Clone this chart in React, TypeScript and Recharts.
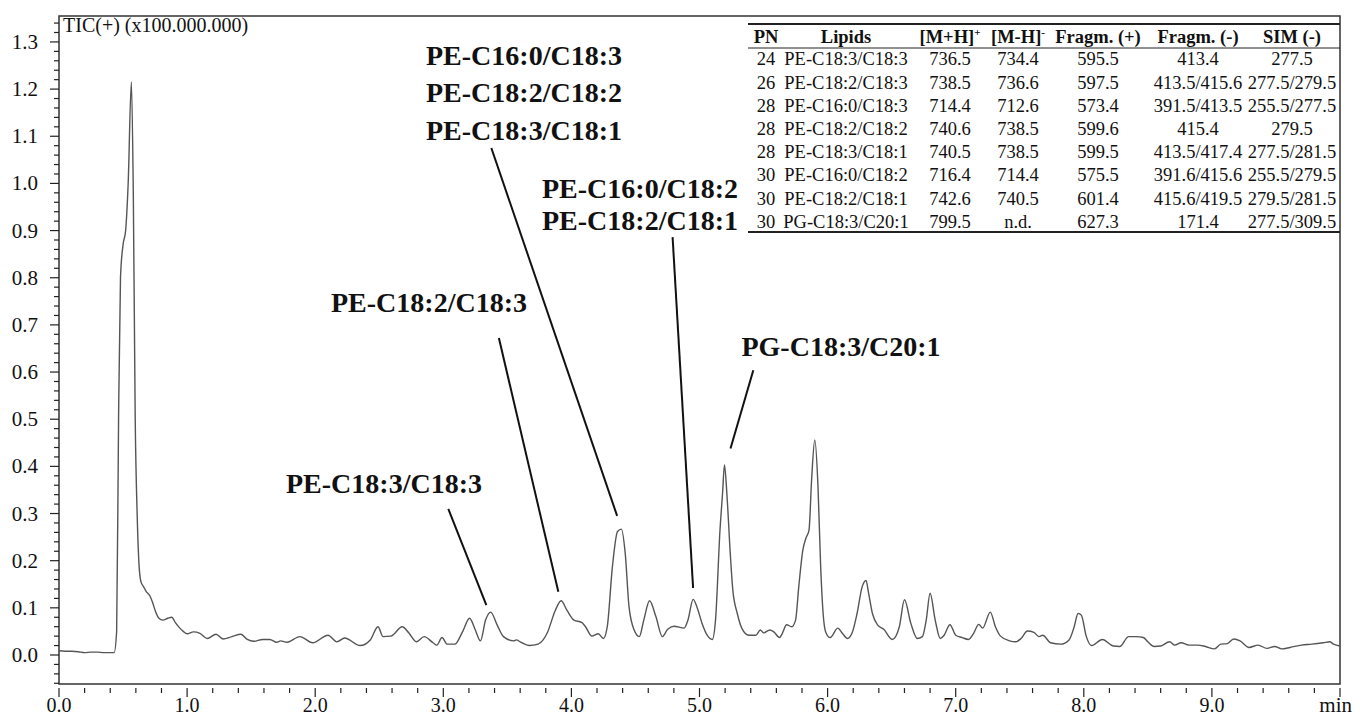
import React from 'react';
import { LineChart, Line, XAxis, YAxis, ReferenceLine, ReferenceArea } from 'recharts';

// Retention time (min)
const retentionTimes = [
  0.0, 0.05, 0.1, 0.15, 0.2, 0.25, 0.3, 0.35, 0.4, 0.43,
  0.45, 0.465, 0.48, 0.5, 0.52, 0.54, 0.565, 0.58, 0.595, 0.61,
  0.625, 0.64, 0.66, 0.68, 0.71, 0.73, 0.75, 0.78, 0.81, 0.85,
  0.88, 0.91, 0.94, 0.97, 1.0, 1.05, 1.1, 1.157, 1.226, 1.28,
  1.35, 1.42, 1.47, 1.52, 1.59, 1.645, 1.7, 1.73, 1.78, 1.88,
  1.98, 2.1, 2.17, 2.23, 2.35, 2.43, 2.49, 2.53, 2.59, 2.68,
  2.73, 2.79, 2.85, 2.92, 2.95, 2.99, 3.03, 3.09, 3.15, 3.205,
  3.25, 3.29, 3.33, 3.37, 3.42, 3.47, 3.55, 3.57, 3.6, 3.67,
  3.74, 3.81, 3.875, 3.92, 3.965, 4.02, 4.08, 4.11, 4.16, 4.21,
  4.25, 4.28, 4.32, 4.36, 4.39, 4.42, 4.45, 4.49, 4.53, 4.565,
  4.61, 4.66, 4.71, 4.75, 4.8, 4.88, 4.91, 4.95, 4.98, 5.02,
  5.06, 5.1, 5.125, 5.16, 5.18, 5.195, 5.215, 5.24, 5.26, 5.295,
  5.33, 5.385, 5.44, 5.475, 5.5, 5.55, 5.58, 5.625, 5.645, 5.68,
  5.72, 5.75, 5.775, 5.807, 5.83, 5.855, 5.875, 5.9, 5.925, 5.945,
  5.965, 5.985, 6.02, 6.08, 6.115, 6.155, 6.19, 6.23, 6.27, 6.3,
  6.32, 6.35, 6.39, 6.44, 6.505, 6.56, 6.6, 6.65, 6.7, 6.74,
  6.77, 6.8, 6.84, 6.88, 6.91, 6.955, 7.0, 7.05, 7.1, 7.14,
  7.18, 7.21, 7.27, 7.31, 7.35, 7.42, 7.47, 7.51, 7.56, 7.61,
  7.65, 7.68, 7.74, 7.82, 7.885, 7.925, 7.955, 7.98, 8.02, 8.06,
  8.145, 8.23, 8.28, 8.35, 8.41, 8.465, 8.5, 8.55, 8.6, 8.67,
  8.71, 8.76, 8.82, 8.89, 8.95, 9.02, 9.07, 9.12, 9.17, 9.22,
  9.29, 9.36, 9.43, 9.49, 9.545, 9.61, 9.7, 9.78, 9.87, 9.92,
  9.95, 10.0,
];

// TIC(+) intensity (x100.000.000)
const ticIntensity = [
  0.009, 0.008, 0.008, 0.007, 0.005, 0.006, 0.006, 0.005, 0.005, 0.005,
  0.05, 0.5, 0.8, 0.87, 0.9, 1.0, 1.215, 0.98, 0.5, 0.3,
  0.19, 0.155, 0.145, 0.135, 0.125, 0.112, 0.095, 0.078, 0.074, 0.078,
  0.08, 0.068, 0.058, 0.05, 0.045, 0.049, 0.046, 0.035, 0.044, 0.034,
  0.039, 0.044, 0.033, 0.029, 0.033, 0.033, 0.027, 0.03, 0.027, 0.039,
  0.026, 0.042, 0.028, 0.036, 0.02, 0.032, 0.06, 0.039, 0.04, 0.06,
  0.047, 0.028, 0.039, 0.026, 0.021, 0.037, 0.023, 0.023, 0.049, 0.078,
  0.053, 0.03, 0.074, 0.091, 0.064, 0.039, 0.03, 0.032, 0.028, 0.02,
  0.023, 0.046, 0.095, 0.115, 0.095, 0.074, 0.069, 0.06, 0.04, 0.045,
  0.035, 0.06, 0.187, 0.262, 0.267, 0.216, 0.102, 0.053, 0.039, 0.074,
  0.115, 0.081, 0.039, 0.054, 0.061, 0.057, 0.074, 0.118, 0.102, 0.067,
  0.042, 0.033, 0.074, 0.265, 0.343, 0.403, 0.336, 0.216, 0.138, 0.088,
  0.057, 0.042, 0.042, 0.053, 0.047, 0.053, 0.049, 0.037, 0.045, 0.064,
  0.06, 0.074, 0.145, 0.223, 0.247, 0.265, 0.371, 0.456, 0.357, 0.194,
  0.088, 0.049, 0.037, 0.057, 0.046, 0.035, 0.046, 0.088, 0.145, 0.158,
  0.131, 0.088, 0.064, 0.054, 0.033, 0.06, 0.117, 0.067, 0.035, 0.039,
  0.074, 0.131, 0.074, 0.035, 0.042, 0.064, 0.042, 0.037, 0.033, 0.046,
  0.065, 0.057, 0.091, 0.06, 0.04, 0.03, 0.028, 0.035, 0.051, 0.048,
  0.039, 0.042, 0.026, 0.023, 0.032, 0.06, 0.088, 0.085, 0.039, 0.02,
  0.033, 0.019, 0.018, 0.039, 0.039, 0.037, 0.028, 0.018, 0.019, 0.028,
  0.021, 0.026, 0.021, 0.021, 0.018, 0.013, 0.023, 0.024, 0.034, 0.03,
  0.016, 0.021, 0.014, 0.018, 0.013, 0.016, 0.021, 0.023, 0.026, 0.028,
  0.023, 0.019,
];

const xTickValues = Array.from({ length: 51 }, (_, i) => Math.round(i * 2) / 10);
const yTickValues = Array.from({ length: 71 }, (_, i) => Math.round(i * 2 - 6) / 100);
const yDomain: [number, number] = [-0.0615, 1.355];

// Annotation leader lines, in data coordinates (min, intensity)
const leaderStartX = [3.039, 3.434, 3.375, 4.79, 5.42];
const leaderStartY = [0.31, 0.672, 1.075, 0.886, 0.604];
const leaderEndX = [3.336, 3.898, 4.357, 4.95, 5.242];
const leaderEndY = [0.106, 0.134, 0.295, 0.142, 0.438];

// Annotation labels
const annotationTexts = [
  'PE-C16:0/C18:3', 'PE-C18:2/C18:2', 'PE-C18:3/C18:1',
  'PE-C16:0/C18:2', 'PE-C18:2/C18:1',
  'PE-C18:2/C18:3', 'PG-C18:3/C20:1', 'PE-C18:3/C18:3',
];
const annotationX = [524, 524, 524, 640, 640, 429, 841, 384];
const annotationY = [65, 102, 140, 198, 230, 312, 356, 493];

// Table
const tablePN = ['24', '26', '28', '28', '28', '30', '30', '30'];
const tableLipids = [
  'PE-C18:3/C18:3', 'PE-C18:2/C18:3', 'PE-C16:0/C18:3', 'PE-C18:2/C18:2',
  'PE-C18:3/C18:1', 'PE-C16:0/C18:2', 'PE-C18:2/C18:1', 'PG-C18:3/C20:1',
];
const tableMHpos = ['736.5', '738.5', '714.4', '740.6', '740.5', '716.4', '742.6', '799.5'];
const tableMHneg = ['734.4', '736.6', '712.6', '738.5', '738.5', '714.4', '740.5', 'n.d.'];
const tableFragPos = ['595.5', '597.5', '573.4', '599.6', '599.5', '575.5', '601.4', '627.3'];
const tableFragNeg = ['413.4', '413.5/415.6', '391.5/413.5', '415.4', '413.5/417.4', '391.6/415.6', '415.6/419.5', '171.4'];
const tableSIM = ['277.5', '277.5/279.5', '255.5/277.5', '279.5', '277.5/281.5', '255.5/279.5', '279.5/281.5', '277.5/309.5'];

const data = retentionTimes.map((t, i) => ({ t, tic: ticIntensity[i] }));

const FONT = '"Liberation Serif", "Times New Roman", serif';

const XTick = (props: any) => {
  const { x, y, payload } = props;
  const v = payload.value as number;
  const major = Math.abs(v - Math.round(v)) < 1e-6;
  return (
    <g>
      <line x1={x} x2={x} y1={y + 4} y2={y + (major ? 13 : 9)} stroke="#222" strokeWidth={1.2} />
      {major && v < 10 && (
        <text x={x} y={y + 28} textAnchor="middle" fontFamily={FONT} fontSize={20} fill="#111">
          {v.toFixed(1)}
        </text>
      )}
      {major && v >= 10 && (
        <text x={x + 12} y={y + 28} textAnchor="end" fontFamily={FONT} fontSize={21} fill="#111">
          min
        </text>
      )}
    </g>
  );
};

const YTick = (props: any) => {
  const { x, y, payload } = props;
  const v = payload.value as number;
  const major = Math.abs(v * 10 - Math.round(v * 10)) < 1e-6;
  return (
    <g>
      <line x1={x - (major ? 9 : 5)} x2={x} y1={y} y2={y} stroke="#222" strokeWidth={1.2} />
      {major && (
        <text x={x - 21} y={y + 7} textAnchor="end" fontFamily={FONT} fontSize={21} fill="#111">
          {v.toFixed(1)}
        </text>
      )}
    </g>
  );
};

const colCenters = [766, 846, 950, 1018, 1098, 1198, 1292];
const rowBase = (i: number) => 65.3 + i * 23.2;

const Table = () => {
  const cols = [tablePN, tableLipids, tableMHpos, tableMHneg, tableFragPos, tableFragNeg, tableSIM];
  return (
    <g fontFamily={FONT} fill="#111">
      <line x1={748} x2={1340} y1={24} y2={24} stroke="#222" strokeWidth={2} />
      <line x1={748} x2={1340} y1={48} y2={48} stroke="#222" strokeWidth={1} />
      <line x1={748} x2={1340} y1={232} y2={232} stroke="#222" strokeWidth={2} />
      <g fontWeight="bold" fontSize={18.5} textAnchor="middle">
        <text x={colCenters[0]} y={42.5}>PN</text>
        <text x={colCenters[1]} y={42.5}>Lipids</text>
        <text x={colCenters[2]} y={42.5}>
          [M+H]<tspan fontSize={11} dy={-7}>+</tspan>
        </text>
        <text x={colCenters[3]} y={42.5}>
          [M-H]<tspan fontSize={11} dy={-7}>-</tspan>
        </text>
        <text x={colCenters[4]} y={42.5}>Fragm. (+)</text>
        <text x={colCenters[5]} y={42.5}>Fragm. (-)</text>
        <text x={colCenters[6]} y={42.5}>SIM (-)</text>
      </g>
      <g fontSize={18.5} textAnchor="middle">
        {cols.map((col, c) =>
          col.map((val, r) => (
            <text key={`${c}-${r}`} x={colCenters[c]} y={rowBase(r)}>
              {val}
            </text>
          ))
        )}
      </g>
    </g>
  );
};

export default function App() {
  return (
    <div style={{ position: 'absolute', left: 0, top: 0, width: 1356, height: 718, background: '#fff' }}>
      <LineChart width={1356} height={718} data={data} margin={{ top: 16, right: 16, left: 0, bottom: 0 }}>
        <XAxis
          dataKey="t"
          type="number"
          domain={[0, 10]}
          ticks={xTickValues}
          interval={0}
          height={34}
          tick={<XTick />}
          tickLine={false}
          axisLine={false}
          tickSize={0}
          tickMargin={0}
          allowDataOverflow
        />
        <YAxis
          type="number"
          domain={yDomain}
          ticks={yTickValues}
          interval={0}
          width={59}
          tick={<YTick />}
          tickLine={false}
          axisLine={false}
          tickSize={0}
          tickMargin={0}
          allowDataOverflow
        />
        <ReferenceArea
          x1={0}
          x2={10}
          y1={yDomain[0]}
          y2={yDomain[1]}
          fill="none"
          stroke="#333"
          strokeWidth={1.5}
          ifOverflow="visible"
        />
        <Line
          dataKey="tic"
          type="monotone"
          stroke="#555"
          strokeWidth={1.4}
          dot={false}
          isAnimationActive={false}
        />
        {leaderStartX.map((sx, i) => (
          <ReferenceLine
            key={i}
            segment={[
              { x: sx, y: leaderStartY[i] },
              { x: leaderEndX[i], y: leaderEndY[i] },
            ]}
            stroke="#111"
            strokeWidth={2}
            ifOverflow="visible"
          />
        ))}
      </LineChart>
      <svg width={1356} height={718} style={{ position: 'absolute', left: 0, top: 0, pointerEvents: 'none' }}>
        <text x={63} y={32} fontFamily={FONT} fontSize={20} fill="#111">
          TIC(+) (x100.000.000)
        </text>
        {annotationTexts.map((t, i) => (
          <text
            key={i}
            x={annotationX[i]}
            y={annotationY[i]}
            textAnchor="middle"
            fontFamily={FONT}
            fontWeight="bold"
            fontSize={28}
            fill="#111"
          >
            {t}
          </text>
        ))}
        <Table />
      </svg>
    </div>
  );
}
